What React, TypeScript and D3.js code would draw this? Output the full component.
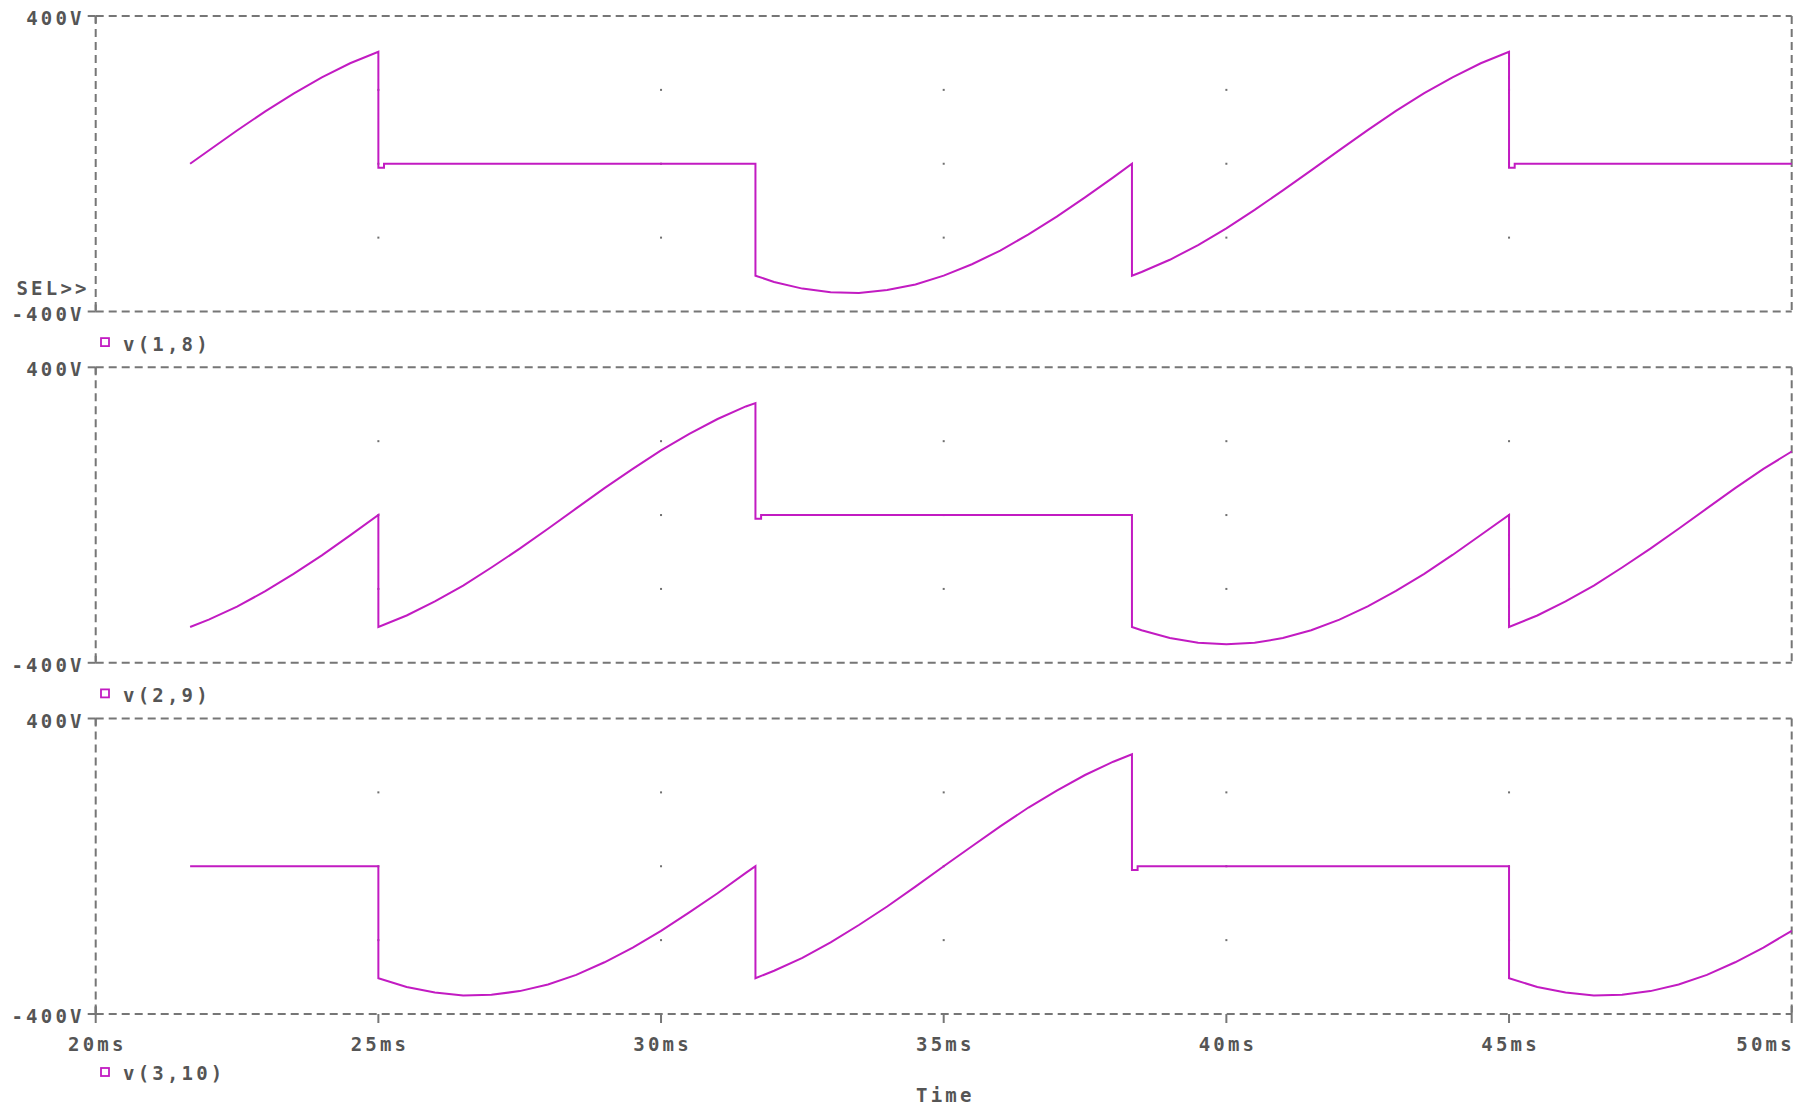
import React from "react";
import * as d3 from "d3";

// ---- data (time in ms, voltage in V) ----
const xTicks = [20, 25, 30, 35, 40, 45, 50];
const xTickLabels = ["20ms", "25ms", "30ms", "35ms", "40ms", "45ms", "50ms"];
const yTicks = [400, -400];
const yTickLabels = ["400V", "-400V"];
const gridX = [25, 30, 35, 40, 45];
const gridY = [200, 0, -200];
const seriesNames = ["v(1,8)", "v(2,9)", "v(3,10)"];

const v18: [number, number][] = [
  [21.67, 0], [22, 36], [22.5, 90], [23, 142], [23.5, 190], [24, 234], [24.5, 272], [25, 303],
  [25, -11], [25.1, -11], [25.1, 0], [31.67, 0],
  [31.67, -303], [32, -320], [32.5, -338], [33, -348], [33.5, -350], [34, -342], [34.5, -327], [35, -303],
  [35.5, -272], [36, -235], [36.5, -191], [37, -143], [37.5, -91], [38, -37], [38.33, 0],
  [38.33, -303], [38.5, -293], [39, -260], [39.5, -220], [40, -175], [40.5, -125], [41, -72], [41.5, -18],
  [42, 37], [42.5, 91], [43, 143], [43.5, 191], [44, 234], [44.5, 272], [45, 303],
  [45, -11], [45.1, -11], [45.1, 0], [50, 0],
];

const v29: [number, number][] = [
  [21.67, -303], [22, -283], [22.5, -248], [23, -206], [23.5, -159], [24, -109], [24.5, -55], [25, 0],
  [25, -303], [25.5, -272], [26, -234], [26.5, -191], [27, -142], [27.5, -91], [28, -37], [28.5, 18],
  [29, 73], [29.5, 125], [30, 175], [30.5, 220], [31, 260], [31.5, 294], [31.67, 303],
  [31.67, -10], [31.77, -10], [31.77, 0], [38.33, 0],
  [38.33, -303], [38.5, -312], [39, -333], [39.5, -346], [40, -350], [40.5, -346], [41, -333], [41.5, -312],
  [42, -283], [42.5, -247], [43, -205], [43.5, -159], [44, -108], [44.5, -54], [45, 0],
  [45, -303], [45.5, -272], [46, -234], [46.5, -191], [47, -142], [47.5, -91], [48, -37], [48.5, 18],
  [49, 73], [49.5, 125], [50, 172],
];

const v310: [number, number][] = [
  [21.67, 0], [25, 0],
  [25, -303], [25.5, -327], [26, -342], [26.5, -350], [27, -348], [27.5, -338], [28, -320], [28.5, -294],
  [29, -260], [29.5, -220], [30, -175], [30.5, -125], [31, -73], [31.5, -18], [31.67, 0],
  [31.67, -303], [32, -283], [32.5, -248], [33, -206], [33.5, -159], [34, -109], [34.5, -55], [35, 0],
  [35.5, 54], [36, 108], [36.5, 159], [37, 205], [37.5, 247], [38, 283], [38.33, 303],
  [38.33, -10], [38.43, -10], [38.43, 0], [45, 0],
  [45, -303], [45.5, -327], [46, -342], [46.5, -350], [47, -348], [47.5, -338], [48, -320], [48.5, -294],
  [49, -260], [49.5, -220], [50, -175],
];

const seriesData = [v18, v29, v310];

// ---- layout ----
const W = 1804;
const H = 1111;
const left = 95.7;
const right = 1791.7;
const panelTops = [16, 367.3, 718.5];
const panelH = 295.5;
const TEXT = "#555555";
const FRAME = "#767676";
const TRACE = "#c21bc2";
const FONT = "'DejaVu Sans Mono', monospace";
const FS = 19;
const LS = 3.2;

export default function App() {
  const x = d3.scaleLinear().domain([20, 50]).range([left, right]);
  const panels = panelTops.map((top) =>
    d3.scaleLinear().domain([-400, 400]).range([top + panelH, top])
  );
  const textStyle = {
    fontFamily: FONT,
    fontSize: FS,
    fontWeight: 700,
    letterSpacing: LS,
    fill: TEXT,
  } as React.CSSProperties;

  return (
    <svg
      width={W}
      height={H}
      style={{ position: "fixed", left: 0, top: 0, background: "#fff" }}
    >
      <rect x={0} y={0} width={W} height={H} fill="#fff" />
      {panels.map((y, i) => {
        const top = y(400);
        const bottom = y(-400);
        const line = d3
          .line<[number, number]>()
          .x((d) => x(d[0]))
          .y((d) => y(d[1]));
        const isLast = i === panels.length - 1;
        const legendY = isLast ? bottom + 58 : bottom + 30.6;
        const legendBase = isLast ? bottom + 66 : bottom + 39;
        return (
          <g key={i}>
            {/* dashed frame */}
            <g stroke={FRAME} strokeWidth={2} strokeDasharray="8 5" fill="none">
              <line x1={left} y1={top} x2={right} y2={top} />
              <line x1={left} y1={bottom} x2={right} y2={bottom} />
              <line x1={left} y1={top} x2={left} y2={bottom} />
              <line x1={right} y1={top} x2={right} y2={bottom} />
            </g>
            {/* grid dots */}
            {gridX.map((gx) =>
              gridY.map((gy) => (
                <rect
                  key={`${gx}-${gy}`}
                  x={x(gx) - 1}
                  y={y(gy) - 1}
                  width={2}
                  height={2}
                  fill="#707070"
                />
              ))
            )}
            {/* y ticks & labels */}
            {yTicks.map((v, k) => (
              <g key={v}>
                <line
                  x1={left - 8}
                  x2={left}
                  y1={y(v)}
                  y2={y(v)}
                  stroke={FRAME}
                  strokeWidth={2}
                />
                <line
                  x1={left}
                  x2={left}
                  y1={y(v)}
                  y2={v > 0 ? y(v) + 7 : y(v) - 7}
                  stroke={FRAME}
                  strokeWidth={2}
                />
                <text x={left - 11} y={y(v) + 9} textAnchor="end" style={textStyle}>
                  {yTickLabels[k]}
                </text>
              </g>
            ))}
            {i === 0 && (
              <text x={left - 6} y={bottom - 17} textAnchor="end" style={textStyle}>
                {"SEL>>"}
              </text>
            )}
            {/* trace */}
            <path
              d={line(seriesData[i]) || ""}
              fill="none"
              stroke={TRACE}
              strokeWidth={2}
              strokeLinejoin="miter"
            />
            {/* legend */}
            <rect
              x={101}
              y={legendY - 4}
              width={8}
              height={8}
              fill="none"
              stroke={TRACE}
              strokeWidth={1.8}
            />
            <text x={123} y={legendBase} style={textStyle}>
              {seriesNames[i]}
            </text>
            {/* x axis */}
            {isLast &&
              xTicks.map((t, k) => (
                <g key={t}>
                  <line
                    x1={x(t)}
                    x2={x(t)}
                    y1={bottom}
                    y2={bottom + 9}
                    stroke={FRAME}
                    strokeWidth={2}
                  />
                  {(t === 20 || t === 50) && (
                    <line
                      x1={x(t)}
                      x2={x(t)}
                      y1={bottom}
                      y2={bottom - 8}
                      stroke={FRAME}
                      strokeWidth={2}
                    />
                  )}
                  <text
                    x={k === xTicks.length - 1 ? x(t) + LS : x(t) + LS / 2}
                    y={bottom + 37}
                    textAnchor={k === xTicks.length - 1 ? "end" : "middle"}
                    style={textStyle}
                  >
                    {xTickLabels[k]}
                  </text>
                </g>
              ))}
            {isLast && (
              <text
                x={x(35) + LS / 2}
                y={bottom + 88}
                textAnchor="middle"
                style={textStyle}
              >
                Time
              </text>
            )}
          </g>
        );
      })}
    </svg>
  );
}
